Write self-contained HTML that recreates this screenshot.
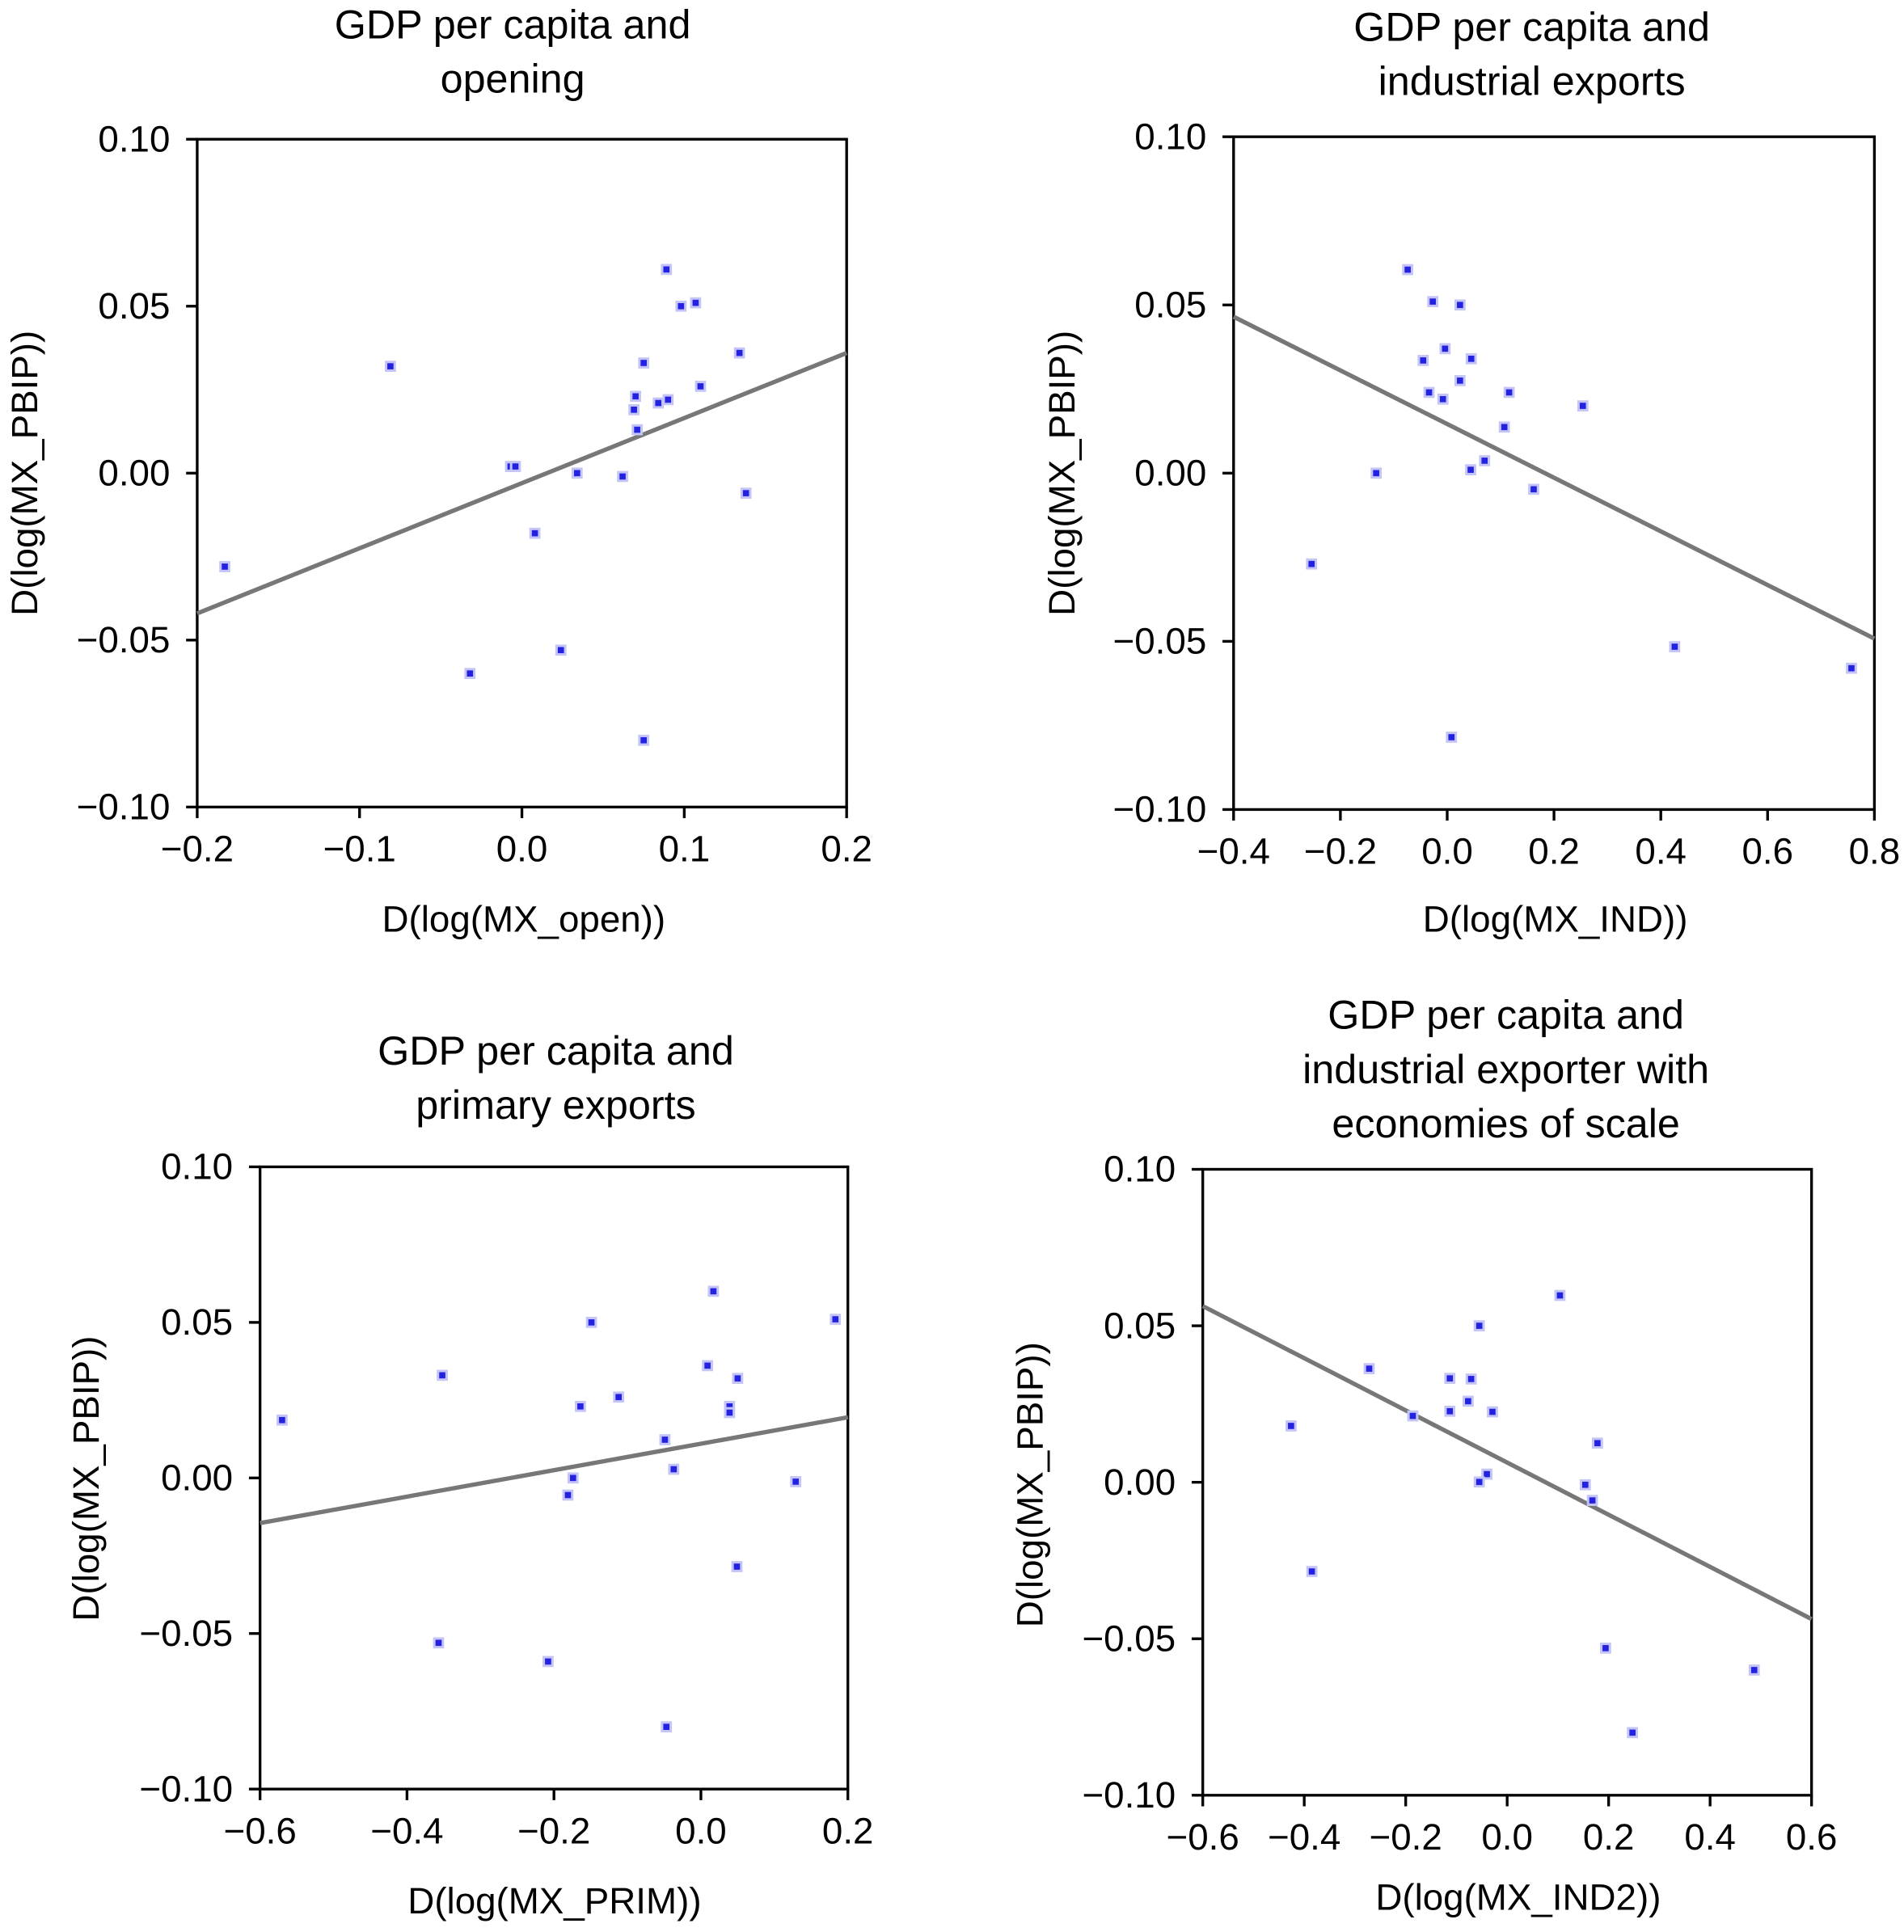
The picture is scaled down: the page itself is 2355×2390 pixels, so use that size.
<!DOCTYPE html>
<html><head><meta charset="utf-8"><style>
html,body{margin:0;padding:0;background:#fff}
svg{display:block}
text{font-family:"Liberation Sans",sans-serif;fill:#000}
</style></head><body>
<svg id="chart" width="2355" height="2390" viewBox="0 0 1545 1568" xmlns="http://www.w3.org/2000/svg"></svg>
<script>
// Panel 1: opening
const p1X = [-0.183,-0.081,-0.032,-0.007,-0.004,0.008,0.024,0.034,0.062,0.070,0.069,0.071,0.075,0.075,0.084,0.090,0.089,0.098,0.107,0.110,0.134,0.138];
const p1Y = [-0.028,0.032,-0.060,0.002,0.002,-0.018,-0.053,0.000,-0.001,0.023,0.019,0.013,0.033,-0.080,0.021,0.022,0.061,0.050,0.051,0.026,0.036,-0.006];
const p1Line = [-0.042,0.036];
const p1XTicks = [-0.2,-0.1,0.0,0.1,0.2];
// Panel 2: industrial
const p2X = [-0.074,-0.027,0.024,-0.004,-0.045,0.045,0.024,-0.034,-0.008,0.116,0.254,0.107,0.070,0.044,-0.133,0.162,-0.254,0.008,0.426,0.757];
const p2Y = [0.0605,0.051,0.050,0.037,0.0335,0.034,0.0275,0.024,0.022,0.024,0.020,0.0137,0.0037,0.001,0.000,-0.0048,-0.027,-0.0785,-0.0516,-0.058];
const p2Line = [0.0465,-0.0492];
const p2XTicks = [-0.4,-0.2,0.0,0.2,0.4,0.6,0.8];
// Panel 3: primary
const p3X = [-0.570,-0.352,-0.357,-0.208,-0.149,-0.164,-0.174,-0.181,-0.112,-0.049,-0.037,-0.047,0.009,0.017,0.039,0.039,0.050,0.049,0.129,0.183];
const p3Y = [0.0186,0.033,-0.053,-0.059,0.050,0.023,0.000,-0.0055,0.026,0.0123,0.0028,-0.080,0.0361,0.060,0.023,0.021,0.032,-0.0285,-0.0012,0.051];
const p3Line = [-0.0145,0.0195];
const p3XTicks = [-0.6,-0.4,-0.2,0.0,0.2];
// Panel 4: industrial with economies of scale
const p4X = [-0.426,-0.385,-0.272,-0.186,-0.113,-0.071,-0.077,-0.113,-0.029,-0.055,0.104,0.178,-0.040,-0.055,0.154,0.168,0.194,0.247,0.487];
const p4Y = [0.018,-0.0285,0.0363,0.0212,0.0332,0.033,0.0259,0.0227,0.0225,0.050,0.0597,0.0125,0.0026,0.0001,-0.0008,-0.0058,-0.053,-0.080,-0.060];
const p4Line = [0.0563,-0.0437];
const p4XTicks = [-0.6,-0.4,-0.2,0.0,0.2,0.4,0.6];
const yTicks = [0.10,0.05,0.00,-0.05,-0.10];

const NS="http://www.w3.org/2000/svg";
const svg=document.getElementById('chart');
function mk(tag,attrs,parent){const e=document.createElementNS(NS,tag);for(const k in attrs)e.setAttribute(k,attrs[k]);(parent||svg).appendChild(e);return e;}
function fmt(v,d){let s=Math.abs(v).toFixed(d);return (v<0?'\u2212':'')+s;}

function panel(cfg){
  const g=mk('g',{});
  
  
  const {L,R,T,B,xs,ys}=cfg;
  const xmin=cfg.xt[0],xmax=cfg.xt[cfg.xt.length-1];
  const sx=v=>L+(v-xmin)/(xmax-xmin)*(R-L);
  const sy=v=>B-(v+0.1)/0.2*(B-T);
  const box=mk('rect',{x:L,y:T,width:R-L,height:B-T,fill:'none',stroke:'#000','stroke-width':2.2},g);
  
  
  cfg.title.forEach((t,i)=>{
    const tt=mk('text',{x:cfg.tx,y:cfg.ty+i*44,'text-anchor':'middle','font-size':33},g);
    tt.textContent=t;
    
    
  });
  yTicks.forEach(v=>{
    const y=sy(v);
    mk('line',{x1:L-9,x2:L,y1:y,y2:y,stroke:'#000','stroke-width':2.2},g);
    const t=mk('text',{x:L-22,y:y+10,'text-anchor':'end','font-size':30},g);
    t.textContent=fmt(v,2);
    
    
  });
  cfg.xt.forEach(v=>{
    const x=sx(v);
    mk('line',{x1:x,x2:x,y1:B,y2:B+9,stroke:'#000','stroke-width':2.2},g);
    const t=mk('text',{x:x,y:B+44,'text-anchor':'middle','font-size':30},g);
    t.textContent=fmt(v,1);
    
    
  });
  const xl=mk('text',{x:cfg.xlx,y:cfg.xly,'text-anchor':'middle','font-size':30},g);
  xl.textContent=cfg.xlabel;
  
  
  const yl=mk('text',{x:0,y:0,'text-anchor':'middle','font-size':30,transform:`translate(${cfg.ylx},${cfg.yly}) rotate(-90)`},g);
  yl.textContent='D(log(MX_PBIP))';
  
  
  const ln=mk('line',{x1:sx(xmin),y1:sy(cfg.line[0]),x2:sx(xmax),y2:sy(cfg.line[1]),stroke:'#777','stroke-width':3.5},g);
  
  
  xs.forEach((xv,i)=>{
    const cx=sx(xv),cy=sy(ys[i]);
    const h=mk('rect',{x:cx-4.5,y:cy-4.5,width:9,height:9,fill:'#c4c4f8'},g);
    
    
    const p=mk('rect',{x:cx-2.5,y:cy-2.5,width:5,height:5,fill:'#2222e0'},g);
    
    
  });
}
panel({name:'panel-opening',L:160,R:687,T:113,B:655,xs:p1X,ys:p1Y,line:p1Line,xt:p1XTicks,
  title:['GDP per capita and','opening'],tx:416,ty:31,xlabel:'D(log(MX_open))',xlx:425,xly:756,ylx:30,yly:384});
panel({name:'panel-industrial',L:1001,R:1521,T:111,B:657,xs:p2X,ys:p2Y,line:p2Line,xt:p2XTicks,
  title:['GDP per capita and','industrial exports'],tx:1243,ty:33,xlabel:'D(log(MX_IND))',xlx:1262,xly:756,ylx:872,yly:384});
panel({name:'panel-primary',L:211,R:688,T:947,B:1452,xs:p3X,ys:p3Y,line:p3Line,xt:p3XTicks,
  title:['GDP per capita and','primary exports'],tx:451,ty:864,xlabel:'D(log(MX_PRIM))',xlx:450,xly:1553,ylx:80,yly:1200});
panel({name:'panel-industrial-scale',L:976,R:1470,T:949,B:1457,xs:p4X,ys:p4Y,line:p4Line,xt:p4XTicks,
  title:['GDP per capita and','industrial exporter with','economies of scale'],tx:1222,ty:835,xlabel:'D(log(MX_IND2))',xlx:1232,xly:1550,ylx:846,yly:1205});
</script>
</body></html>
